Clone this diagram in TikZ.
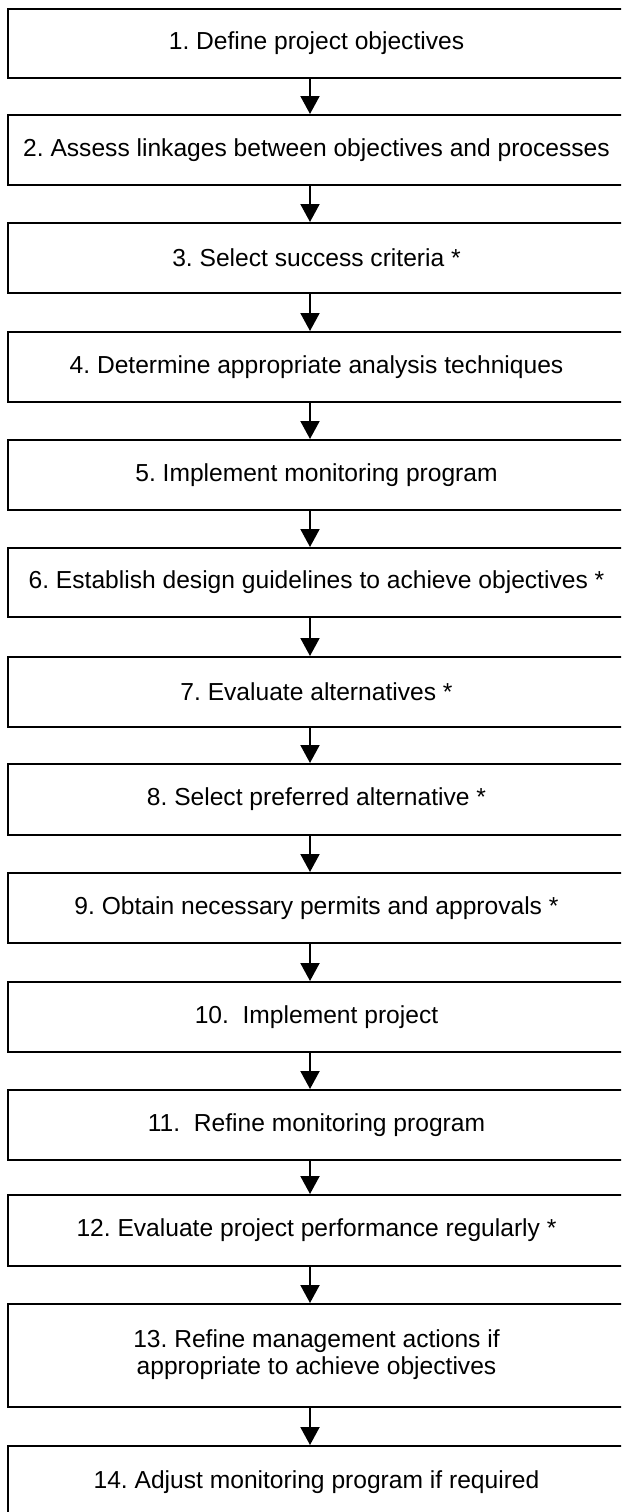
\documentclass[tikz,border=0pt]{standalone}
\usepackage{fontspec}
\setmainfont{Liberation Sans}
\usetikzlibrary{arrows.meta}
\frenchspacing
\tikzset{
  stepbox/.style={draw=black, line width=2pt, rectangle, minimum width=617pt,
    inner sep=0pt, font=\fontsize{24.6}{27}\selectfont, align=center},
  flow/.style={draw=black, line width=2pt, -{Triangle[width=19pt,length=18pt]}}
}
\begin{document}
\begin{tikzpicture}[x=1pt,y=-1pt]
\useasboundingbox (0,0) rectangle (621,1512);
\clip (0,0) rectangle (621,1512);
\fill[white] (0,0) rectangle (621,1512);
\coordinate (ax) at (310,0);
\node[stepbox, minimum height=69pt] (b1) at (316.5,43.5) {1. Define project objectives};
\node[stepbox, minimum height=70pt] (b2) at (316.5,150) {2. Assess linkages between objectives and processes};
\node[stepbox, minimum height=70pt] (b3) at (316.5,258) {3. Select success criteria *};
\node[stepbox, minimum height=70pt] (b4) at (316.5,367) {4. Determine appropriate analysis techniques};
\node[stepbox, minimum height=70pt] (b5) at (316.5,475) {5. Implement monitoring program};
\node[stepbox, minimum height=69pt] (b6) at (316.5,582.5) {6. Establish design guidelines to achieve objectives *};
\node[stepbox, minimum height=70pt] (b7) at (316.5,692) {7. Evaluate alternatives *};
\node[stepbox, minimum height=71pt] (b8) at (316.5,799.5) {8. Select preferred alternative *};
\node[stepbox, minimum height=70pt] (b9) at (316.5,908) {9. Obtain necessary permits and approvals *};
\node[stepbox, minimum height=70pt] (b10) at (316.5,1017) {10.\ \ Implement project};
\node[stepbox, minimum height=70pt] (b11) at (316.5,1125) {11.\ \ Refine monitoring program};
\node[stepbox, minimum height=71pt] (b12) at (316.5,1230.5) {12. Evaluate project performance regularly *};
\node[stepbox, minimum height=103pt] (b13) at (316.5,1355.5) {\raisebox{7pt}{\begin{tabular}{@{}c@{}}13. Refine management actions if\\appropriate to achieve objectives\end{tabular}}};
\node[stepbox, minimum height=72pt] (b14) at (316.5,1482) {14. Adjust monitoring program if required};
\foreach \a/\b in {b1/b2,b2/b3,b3/b4,b4/b5,b5/b6,b6/b7,b7/b8,b8/b9,b9/b10,b10/b11,b11/b12,b12/b13,b13/b14}
  \draw[flow] (\a.south -| ax) -- (\b.north -| ax);
\end{tikzpicture}
\end{document}
